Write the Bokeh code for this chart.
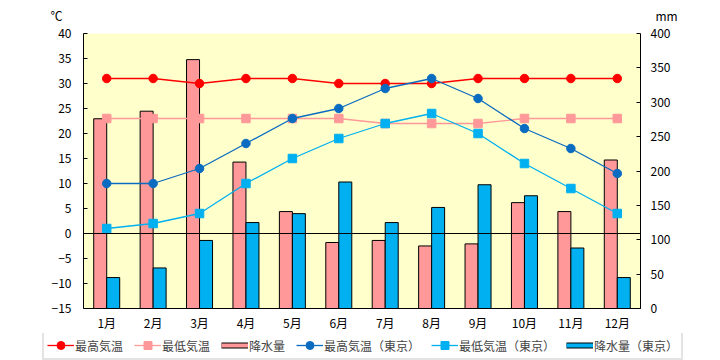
from bokeh.plotting import figure
from bokeh.layouts import column
from bokeh.models import (Range1d, LinearAxis, Span, Legend, LegendItem, Label,
                          SingleIntervalTicker, FactorRange, ColumnDataSource)
from bokeh.transform import dodge
from bokeh.embed import file_html
from bokeh.resources import INLINE

months = ["1月", "2月", "3月", "4月", "5月", "6月", "7月", "8月", "9月", "10月", "11月", "12月"]
max_temp = [31, 31, 30, 31, 31, 30, 30, 30, 31, 31, 31, 31]
min_temp = [23, 23, 23, 23, 23, 23, 22, 22, 22, 23, 23, 23]
precip = [276, 287, 362, 213, 141, 96, 99, 91, 94, 154, 141, 216]
tokyo_max = [10, 10, 13, 18, 23, 25, 29, 31, 27, 21, 17, 12]
tokyo_min = [1, 2, 4, 10, 15, 19, 22, 24, 20, 14, 9, 4]
tokyo_precip = [45, 59, 99, 125, 138, 184, 125, 147, 180, 164, 88, 45]

FONT = "Noto Sans CJK JP"
RED = "#FF0000"
PINK = "#FF9999"
DBLUE = "#0A6CC0"
LBLUE = "#00B0F0"

src = ColumnDataSource(dict(m=months, tmax=max_temp, tmin=min_temp, pr=precip,
                            kmax=tokyo_max, kmin=tokyo_min, kpr=tokyo_precip))
xr = FactorRange(*months)


def no_align(fig):
    try:
        fig.frame_align = False
    except Exception:
        pass


# ---------- main chart ----------
p = figure(x_range=xr, y_range=Range1d(-15, 40),
           frame_width=557, frame_height=275, output_backend="svg", toolbar_location=None,
           min_border_left=83, min_border_right=80, min_border_top=10, min_border_bottom=24)
no_align(p)
p.extra_y_ranges = {"mm": Range1d(0, 400)}
p.background_fill_color = "#FFFFCC"
p.border_fill_color = "white"
p.outline_line_color = None
p.xgrid.visible = False
p.ygrid.visible = False

p.vbar(x=dodge("m", -0.14, range=xr), top="pr", bottom=0, width=0.28,
       y_range_name="mm", fill_color=PINK, line_color="black", line_width=1, source=src)
p.vbar(x=dodge("m", 0.14, range=xr), top="kpr", bottom=0, width=0.28,
       y_range_name="mm", fill_color=LBLUE, line_color="black", line_width=1, source=src)

p.add_layout(Span(location=0, dimension="width", line_color="black", line_width=1))

for col, c, mk in (("tmax", RED, "circle"), ("tmin", PINK, "square"),
                   ("kmax", DBLUE, "circle"), ("kmin", LBLUE, "square")):
    p.line("m", col, source=src, line_color=c, line_width=1.3)
    p.scatter("m", col, source=src, marker=mk, size=8.5, color=c)

ya = p.yaxis[0]
ya.ticker = SingleIntervalTicker(interval=5, num_minor_ticks=0)
ya.major_label_overrides = {-5: "−5", -10: "−10", -15: "−15"}
ra = LinearAxis(y_range_name="mm", ticker=SingleIntervalTicker(interval=50, num_minor_ticks=0))
p.add_layout(ra, "right")
for ax in (ya, ra):
    ax.major_tick_in = 4
    ax.major_tick_out = 0
    ax.minor_tick_line_color = None
    ax.axis_line_color = "black"
    ax.major_tick_line_color = "black"
    ax.major_label_text_font = FONT
    ax.major_label_text_font_size = "12px"
    ax.major_label_text_color = "black"
ya.major_label_standoff = 12
ra.major_label_standoff = 10
xa = p.xaxis[0]
xa.major_tick_line_color = None
xa.major_tick_in = 0
xa.major_tick_out = 0
xa.axis_line_color = "black"
xa.major_label_standoff = 5
xa.major_label_text_font = FONT
xa.major_label_text_font_size = "12px"
xa.major_label_text_color = "black"

# ---------- unit strip ----------
top = figure(x_range=xr, y_range=Range1d(0, 1), width=720, height=23,
             output_backend="svg", toolbar_location=None, min_border=0,
             x_axis_location=None, y_axis_location=None, outline_line_color=None)
no_align(top)
top.grid.visible = False
for txt, sx in (("℃", 50), ("mm", 655)):
    top.add_layout(Label(x=sx, y=8, x_units="screen", y_units="screen", text=txt,
                         text_font=FONT, text_font_size="12px", text_baseline="middle",
                         text_color="black"))

# ---------- legend strip ----------
bot = figure(x_range=xr, y_range=Range1d(-15, 400), width=720, height=28,
             output_backend="svg", toolbar_location=None, min_border=0,
             x_axis_location=None, y_axis_location=None, outline_line_color=None)
no_align(bot)
bot.grid.visible = False


def proxy_line(col, c, w):
    r = bot.line("m", col, source=src, line_color=c, line_width=w)
    r.visible = False
    return r


def proxy_marker(col, c, mk):
    r = bot.scatter("m", col, source=src, marker=mk, size=8.5, color=c)
    r.visible = False
    return r


items = [
    LegendItem(label="最高気温", renderers=[proxy_line("tmax", RED, 1.3), proxy_marker("tmax", RED, "circle")]),
    LegendItem(label="最低気温", renderers=[proxy_line("tmin", PINK, 1.3), proxy_marker("tmin", PINK, "square")]),
    LegendItem(label="降水量", renderers=[proxy_line("pr", "black", 6), proxy_line("pr", PINK, 4)]),
    LegendItem(label="最高気温（東京）", renderers=[proxy_line("kmax", DBLUE, 1.3), proxy_marker("kmax", DBLUE, "circle")]),
    LegendItem(label="最低気温（東京）", renderers=[proxy_line("kmin", LBLUE, 1.3), proxy_marker("kmin", LBLUE, "square")]),
    LegendItem(label="降水量（東京）", renderers=[proxy_line("kpr", "black", 6), proxy_line("kpr", LBLUE, 4)]),
]
legend = Legend(items=items, orientation="horizontal", location=(42, 1),
                glyph_width=27, glyph_height=20, label_standoff=1, spacing=11,
                padding=3, margin=0, label_height=20,
                border_line_color="#C8C8C8", border_line_width=2,
                label_text_font=FONT, label_text_font_size="12px",
                background_fill_color="white", background_fill_alpha=1,
                click_policy="none", inactive_fill_alpha=0)
bot.add_layout(legend)

layout = column(top, p, bot, spacing=0)
open("out.html", "w").write(file_html(layout, INLINE))
